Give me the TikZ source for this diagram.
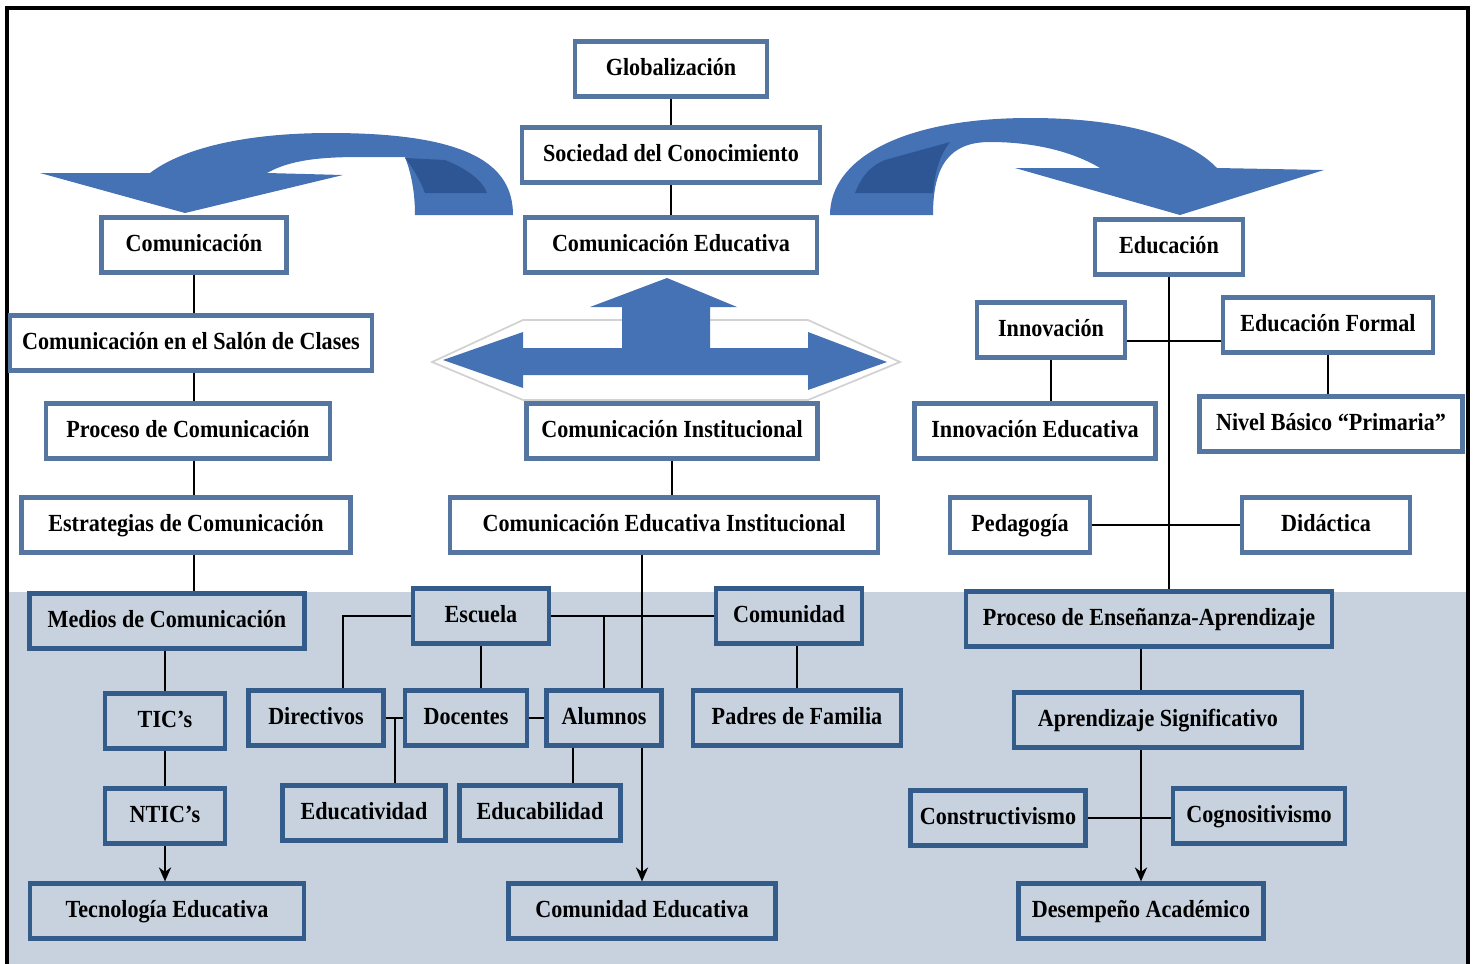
\documentclass[tikz,border=0pt]{standalone}
\usepackage{fontspec}
\setmainfont{Liberation Serif}[FakeStretch=0.9]
\usepackage{xcolor}
\usepackage{tikz}
\usetikzlibrary{
  positioning,
  calc,
  arrows.meta
}

\definecolor{azul}{RGB}{68,114,180}
\definecolor{azulosc}{RGB}{46,86,148}
\definecolor{borde}{RGB}{84,118,160}
\definecolor{bordeb}{RGB}{52,92,138}
\definecolor{fondo}{RGB}{199,210,222}

\tikzset{
  caja/.style={draw=borde,line width=2.4pt,fill=white,minimum height=1.1cm,inner sep=0pt,
    text height=11pt,text depth=3.5pt,font=\fontsize{14}{16}\selectfont\bfseries},
  cajab/.style={caja,draw=bordeb,fill=fondo},
  linea/.style={line width=0.8pt}
}

\begin{document}
\begin{tikzpicture}[x=0.02cm,y=-0.02cm,>={Stealth[length=8pt,width=7pt]}]
  % 枠と背景
  \useasboundingbox (0,0) rectangle (1475,964);
  \fill[fondo] (8,592) rectangle (1468,964);
  \draw[line width=1.8pt] (7,964)--(7,8)--(1468,8)--(1468,964);
  % 矢印(左)
  \fill[azul] (513,215) .. controls (513,165) and (470,133) .. (330,133)
    .. controls (240,133) and (180,150) .. (150,173)
    -- (40,173) -- (185,213) -- (343,175) -- (267,173)
    .. controls (290,160) and (320,157) .. (360,157)
    -- (405,157) .. controls (412,175) and (415,195) .. (415,215) -- cycle;
  \fill[azulosc] (405,158) -- (445,160) .. controls (470,170) and (483,182) .. (487,193)
    -- (425,193) .. controls (420,180) and (413,168) .. (405,158);
  % 矢印(右)
  \fill[azul] (830,215) .. controls (830,160) and (900,118) .. (1030,118)
    .. controls (1130,118) and (1190,140) .. (1217,168)
    -- (1324,170) -- (1180,215) -- (1015,168) -- (1100,168)
    .. controls (1070,150) and (1030,142) .. (990,142)
    .. controls (950,142) and (933,165) .. (933,215) -- cycle;
  \fill[azulosc] (855,193) .. controls (862,175) and (872,165) .. (885,160) -- (950,142)
    .. controls (940,155) and (935,170) .. (933,193) -- cycle;
  % 矢印(中央)
  \filldraw[fill=white,draw=gray!35,line width=1pt] (432,362) -- (523,320) -- (808,320)
    -- (900,362) -- (808,400) -- (523,400) -- cycle;
  \fill[azul] (443,360) -- (523,332) -- (523,348) -- (622,348) -- (622,307) -- (590,307)
    -- (667,278) -- (737,307) -- (710,307) -- (710,348) -- (808,348) -- (808,332)
    -- (887,362) -- (808,390) -- (808,375) -- (523,375) -- (523,388) -- cycle;

  % 中央
  \node[caja,minimum width=3.84cm] (glob) at (671,69) {Globalización};
  \node[caja,minimum width=5.96cm] (soc) at (671,155) {Sociedad del Conocimiento};
  \node[caja,minimum width=5.84cm] (comedu) at (671,245) {Comunicación Educativa};
  \node[caja,minimum width=5.82cm] (inst) at (672,431) {Comunicación Institucional};
  \node[caja,minimum width=8.56cm] (cei) at (664,525) {Comunicación Educativa Institucional};
  % 左
  \node[caja,minimum width=3.7cm] (com) at (194,245) {Comunicación};
  \node[caja,minimum width=7.24cm] (salon) at (191,343) {Comunicación en el Salón de Clases};
  \node[caja,minimum width=5.68cm] (proceso) at (188,431) {Proceso de Comunicación};
  \node[caja,minimum width=6.58cm] (estrat) at (186,525) {Estrategias de Comunicación};
  \node[cajab,minimum width=5.5cm] (medios) at (167,621) {Medios de Comunicación};
  \node[cajab,minimum width=2.4cm] (tic) at (165,721) {TIC’s};
  \node[cajab,minimum width=2.4cm] (ntic) at (165,816) {NTIC’s};
  \node[cajab,minimum width=5.48cm] (tecno) at (167,911) {Tecnología Educativa};
  % 中央下
  \node[cajab,minimum width=2.72cm] (escuela) at (481,616) {Escuela};
  \node[cajab,minimum width=2.92cm] (comun) at (789,616) {Comunidad};
  \node[cajab,minimum width=2.7cm] (direc) at (316,718) {Directivos};
  \node[cajab,minimum width=2.44cm] (docen) at (466,718) {Docentes};
  \node[cajab,minimum width=2.3cm] (alum) at (604,718) {Alumnos};
  \node[cajab,minimum width=4.16cm] (padres) at (797,718) {Padres de Familia};
  \node[cajab,minimum width=3.26cm] (edtiv) at (364,813) {Educatividad};
  \node[cajab,minimum width=3.22cm] (edbil) at (540,813) {Educabilidad};
  \node[cajab,minimum width=5.34cm] (comed) at (642,911) {Comunidad Educativa};
  % 右
  \node[caja,minimum width=2.96cm] (educ) at (1169,247) {Educación};
  \node[caja,minimum width=2.96cm] (innov) at (1051,330) {Innovación};
  \node[caja,minimum width=4.2cm] (edform) at (1328,325) {Educación Formal};
  \node[caja,minimum width=4.82cm] (inned) at (1035,431) {Innovación Educativa};
  \node[caja,minimum width=5.26cm] (nivel) at (1331,424) {Nivel Básico “Primaria”};
  \node[caja,minimum width=2.8cm] (ped) at (1020,525) {Pedagogía};
  \node[caja,minimum width=3.36cm] (did) at (1326,525) {Didáctica};
  \node[cajab,minimum width=7.32cm] (pea) at (1149,619) {Proceso de Enseñanza-Aprendizaje};
  \node[cajab,minimum width=5.76cm] (apr) at (1158,720) {Aprendizaje Significativo};
  \node[cajab,minimum width=3.5cm] (constr) at (998,818) {Constructivismo};
  \node[cajab,minimum width=3.44cm] (cogn) at (1259,816) {Cognositivismo};
  \node[cajab,minimum width=4.9cm] (desem) at (1141,911) {Desempeño Académico};

  % 線(中央)
  \draw[linea] (glob.south) -- (soc.north);
  \draw[linea] (soc.south) -- (comedu.north);
  \draw[linea] (inst.south) -- (inst.south |- cei.north);
  \draw[linea] (cei.south -| comed.north) -- (comed.north |- alum.north);
  \draw[linea,->] (comed.north |- alum.south) -- (comed.north);
  \draw[linea] (escuela.east) -- (comun.west);
  \draw[linea] (escuela.west) -| ([xshift=0.54cm]direc.north);
  \draw[linea] (escuela.south) -- (escuela.south |- docen.north);
  \draw[linea] (alum.north) -- (alum.north |- escuela.east);
  \draw[linea] (padres.north) -- (padres.north |- comun.south);
  \draw[linea] (direc.east) -- (docen.west);
  \draw[linea] ([xshift=0.62cm]edtiv.north) -- ([xshift=0.62cm]edtiv.north |- direc.east);
  \draw[linea] (docen.east) -- (alum.west);
  \draw[linea] ([xshift=0.66cm]edbil.north) -- ([xshift=0.66cm]edbil.north |- alum.south);
  % 線(左)
  \foreach \a/\b in {com/salon,salon/proceso,proceso/estrat,estrat/medios}
    \draw[linea] (com.south |- \a.south) -- (com.south |- \b.north);
  \draw[linea] (tic.north |- medios.south) -- (tic.north);
  \draw[linea] (tic.south) -- (ntic.north);
  \draw[linea,->] (ntic.south) -- (ntic.south |- tecno.north);
  % 線(右)
  \draw[linea] (educ.south) -- (educ.south |- pea.north);
  \draw[linea] ([yshift=-0.22cm]innov.east) -- ([yshift=-0.22cm]innov.east -| edform.west);
  \draw[linea] (innov.south) -- (innov.south |- inned.north);
  \draw[linea] (edform.south) -- (edform.south |- nivel.north);
  \draw[linea] (ped.east) -- (did.west);
  \draw[linea] (desem.north |- pea.south) -- (desem.north |- apr.north);
  \draw[linea,->] (desem.north |- apr.south) -- (desem.north);
  \draw[linea] (constr.east) -- (constr.east -| cogn.west);
\end{tikzpicture}
\end{document}
